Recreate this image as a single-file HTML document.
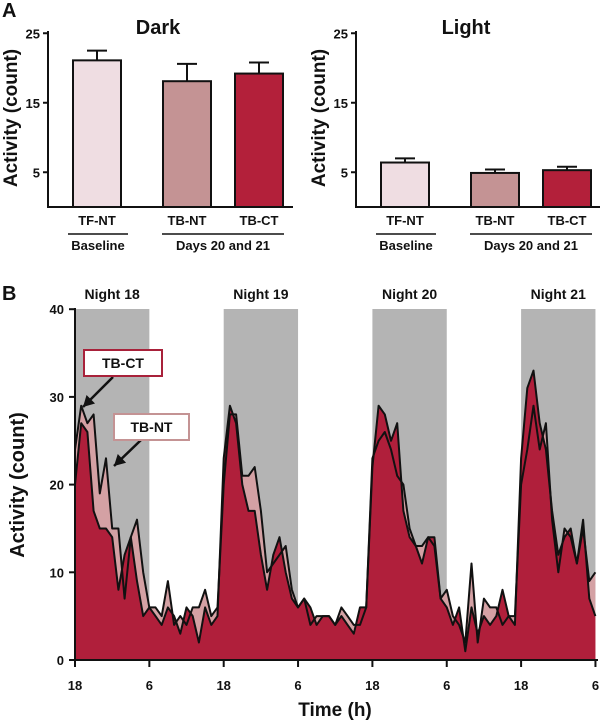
<!DOCTYPE html>
<html><head><meta charset="utf-8"><style>
body{margin:0;background:#fff;font-family:"Liberation Sans",Arial,sans-serif}
svg text{font-family:"Liberation Sans",Arial,sans-serif;font-weight:bold;fill:#111}
</style></head><body>
<svg id="fig" width="600" height="723" viewBox="0 0 600 723"></svg>
<script>
const barCats=["TF-NT","TB-NT","TB-CT"];
const barColors=["#efdde2","#c49394","#b3203a"];
const darkVals=[21.1,18.1,19.2];
const darkErr=[1.4,2.5,1.6];
const lightVals=[6.4,4.9,5.3];
const lightErr=[0.6,0.5,0.5];
const yTicksA=[5,15,25];
const ctVals=[20,27,26,17,15,15,14,8,12,14,9,5,6,5,4,6,5,3,6,5,2,6,4,5,23,29,27,20,17,17,12,8,12,14,10,7,6,7,6,4,5,5,4,5,4,3,6,6,22,29,28,25,27,17,14,13,11,14,14,7,6,4,6,1,6,3,5,4,5,8,5,4,23,31,33,27,24,17,12,14,15,11,16,7,5];
const ntVals=[24,29,27,28,19,23,15,15,7,14,16,10,6,6,5,9,4,5,4,6,6,8,5,6,20,28,28,21,21,22,17,10,11,12,13,8,6,7,4,5,5,5,4,6,5,4,4,6,23,25,26,24,21,20,15,13,13,14,13,7,8,5,4,2,11,2,7,6,6,4,5,5,20,24,29,24,27,16,10,15,14,11,15,9,10];
const yTicksB=[0,10,20,30,40];
const xTickLabels=["18","6","18","6","18","6","18","6"];
const nights=["Night 18","Night 19","Night 20","Night 21"];
const NS="http://www.w3.org/2000/svg";
const svg=document.getElementById("fig");
function mk(tag,attrs,parent,txt){const e=document.createElementNS(NS,tag);for(const k in attrs)e.setAttribute(k,attrs[k]);if(txt!==undefined)e.textContent=txt;(parent||svg).appendChild(e);return e;}

function barPanel(ox,title,vals,errs,name){
  const g=mk("g",{});
  
  
  const y=v=>207-v*6.95;
  const t=mk("text",{x:ox+110,y:34,"font-size":20,"text-anchor":"middle"},g,title);
  
  const xs=[25,115,187];
  vals.forEach((v,i)=>{
    const x0=ox+xs[i];
    const e=mk("line",{x1:x0+24,x2:x0+24,y1:y(v),y2:y(v+errs[i]),stroke:"#111","stroke-width":2},g);
    
    mk("line",{x1:x0+14,x2:x0+34,y1:y(v+errs[i]),y2:y(v+errs[i]),stroke:"#111","stroke-width":2},g);
    const r=mk("rect",{x:x0,y:y(v),width:48,height:207-y(v),fill:barColors[i],stroke:"#111","stroke-width":2},g);
    
    const l=mk("text",{x:x0+24,y:225,"font-size":13,"text-anchor":"middle"},g,barCats[i]);
    
  });
  mk("line",{x1:ox,x2:ox,y1:31,y2:208,stroke:"#111","stroke-width":2},g);
  mk("line",{x1:ox-1,x2:ox+245,y1:207,y2:207,stroke:"#111","stroke-width":2},g);
  yTicksA.forEach(v=>{mk("line",{x1:ox-5,x2:ox,y1:y(v),y2:y(v),stroke:"#111","stroke-width":2},g);
    const tl=mk("text",{x:ox-8,y:y(v)+5,"font-size":13,"text-anchor":"end"},g,v);
    });
  const yt=mk("text",{transform:`translate(${ox-31},118) rotate(-90)`,"font-size":19,"text-anchor":"middle"},g,"Activity (count)");
  
  mk("line",{x1:ox+20,x2:ox+80,y1:234,y2:234,stroke:"#111","stroke-width":1.5},g);
  mk("line",{x1:ox+114,x2:ox+236,y1:234,y2:234,stroke:"#111","stroke-width":1.5},g);
  const b=mk("text",{x:ox+50,y:250,"font-size":13,"text-anchor":"middle"},g,"Baseline");
  
  const d=mk("text",{x:ox+175,y:250,"font-size":13,"text-anchor":"middle"},g,"Days 20 and 21");
  
}
const A=mk("text",{x:2,y:17,"font-size":20},undefined,"A");
barPanel(48,"Dark",darkVals,darkErr,"dark-bar-chart");
barPanel(356,"Light",lightVals,lightErr,"light-bar-chart");

// Panel B
const B=mk("text",{x:2,y:300,"font-size":20},undefined,"B");
const hx=h=>75+h*148.7/24;
const vy=v=>660-v*8.77;
const gB=mk("g",{});


nights.forEach((n,i)=>{
  const r=mk("rect",{x:hx(i*24),y:309,width:hx(12)-hx(0),height:351,fill:"#b4b4b4"},gB);
  
  const t=mk("text",{x:hx(i*24+6),y:299,"font-size":14,"text-anchor":"middle"},gB,n);
  
});
function area(vals,fill,name){
  let d=`M${hx(0)},${vy(0)}`;vals.forEach((v,i)=>d+=` L${hx(i).toFixed(1)},${vy(v).toFixed(1)}`);d+=` L${hx(vals.length-1)},${vy(0)} Z`;
  const p=mk("path",{d:d,fill:fill,stroke:"none"},gB);
  
}
function line(vals,name){
  const pts=vals.map((v,i)=>hx(i).toFixed(1)+","+vy(v).toFixed(1)).join(" ");
  const p=mk("polyline",{points:pts,fill:"none",stroke:"#111","stroke-width":2,"stroke-linejoin":"round"},gB);
  
}
area(ntVals,"#d4a1a4","tb-nt");
area(ctVals,"#b01f3b","tb-ct");
line(ntVals,"tb-nt");line(ctVals,"tb-ct");
mk("line",{x1:75,x2:75,y1:308,y2:661,stroke:"#111","stroke-width":2},gB);
mk("line",{x1:74,x2:598,y1:660,y2:660,stroke:"#111","stroke-width":2},gB);
yTicksB.forEach(v=>{mk("line",{x1:69,x2:75,y1:vy(v),y2:vy(v),stroke:"#111","stroke-width":2},gB);
  const t=mk("text",{x:64,y:vy(v)+5,"font-size":13,"text-anchor":"end"},gB,v);
  });
xTickLabels.forEach((l,i)=>{const x=hx(i*12);
  mk("line",{x1:x,x2:x,y1:660,y2:667,stroke:"#111","stroke-width":2},gB);
  const t=mk("text",{x:x,y:690,"font-size":13,"text-anchor":"middle"},gB,l);
  });
const xt=mk("text",{x:335,y:716,"font-size":19,"text-anchor":"middle"},gB,"Time (h)");

const yt=mk("text",{transform:"translate(24,485) rotate(-90)","font-size":20,"text-anchor":"middle"},gB,"Activity (count)");

function callout(x,y,w,label,color,ax,ay,bx,by,name){
  const g=mk("g",{},gB);
  
  
  mk("line",{x1:ax,y1:ay,x2:bx,y2:by,stroke:"#111","stroke-width":2.5},g);
  const ang=Math.atan2(by-ay,bx-ax);const L=11,W=6;
  const p1=[bx-L*Math.cos(ang)+W*Math.sin(ang),by-L*Math.sin(ang)-W*Math.cos(ang)];
  const p2=[bx-L*Math.cos(ang)-W*Math.sin(ang),by-L*Math.sin(ang)+W*Math.cos(ang)];
  mk("polygon",{points:`${bx},${by} ${p1} ${p2}`,fill:"#111"},g);
  mk("rect",{x:x,y:y,width:w,height:26,fill:"#fff",stroke:color,"stroke-width":2},g);
  mk("text",{x:x+w/2,y:y+18,"font-size":14,"text-anchor":"middle"},g,label);
}
callout(84,350,78,"TB-CT","#a8213a",113,377,83,407,"tb-ct-callout");
callout(114,414,75,"TB-NT","#c49394",141,440,114,466,"tb-nt-callout");
</script>
</body></html>
